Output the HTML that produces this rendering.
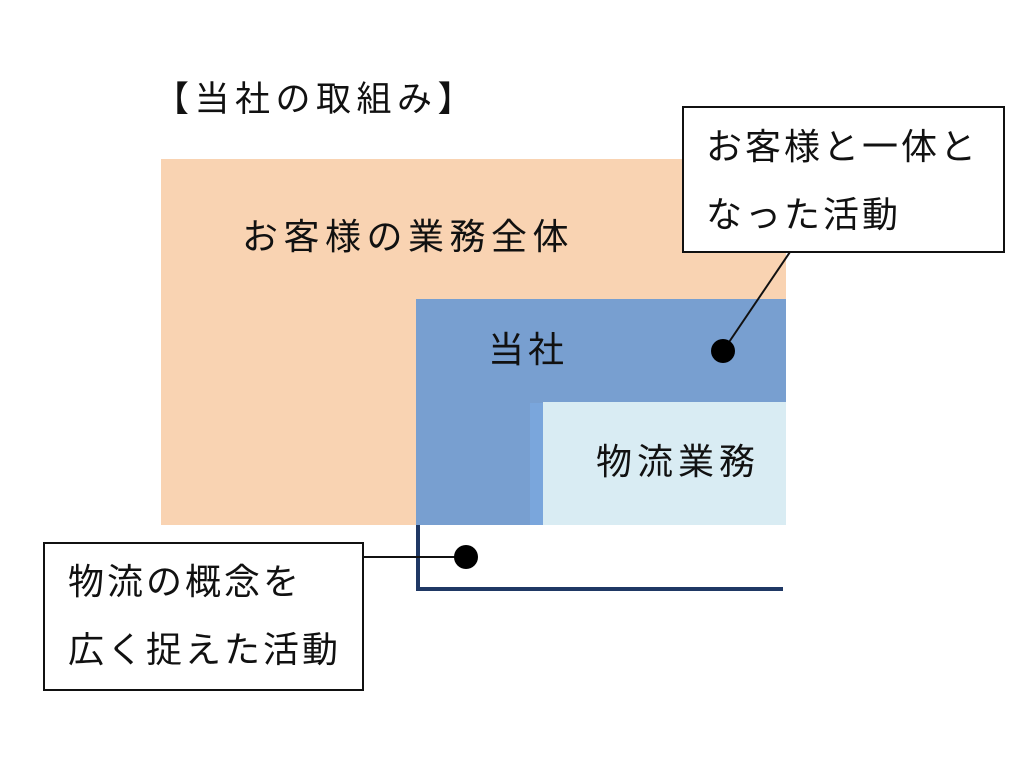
<!DOCTYPE html>
<html><head><meta charset="utf-8"><style>
body{margin:0;width:1024px;height:768px;background:#fff;position:relative;overflow:hidden;font-family:"Liberation Sans","Noto Sans CJK JP",sans-serif;color:#111}
.a{position:absolute}
.t{position:absolute;white-space:nowrap;line-height:1}
</style></head><body>
<div class="t" style="left:154px;top:82px;font-size:35px;letter-spacing:5.5px">【当社の取組み】</div>
<div class="a" style="left:161px;top:159px;width:625px;height:366px;background:#f9d3b2"></div>
<div class="a" style="left:416px;top:299px;width:370px;height:226px;background:#789fd0"></div>
<div class="a" style="left:530px;top:403px;width:14px;height:122px;background:#7aa6dc"></div>
<div class="a" style="left:543px;top:402px;width:243px;height:123px;background:#d9ecf3"></div>
<div class="t" style="left:242px;top:219px;font-size:36px;letter-spacing:5.5px">お客様の業務全体</div>
<div class="t" style="left:488px;top:332px;font-size:36px;letter-spacing:4px">当社</div>
<div class="t" style="left:596px;top:444px;font-size:36px;letter-spacing:5px">物流業務</div>
<svg class="a" style="left:0;top:0" width="1024" height="768">
<path d="M418 525 V589 H783" fill="none" stroke="#1f3864" stroke-width="4"/>
<line x1="362" y1="557" x2="466" y2="557" stroke="#111" stroke-width="2"/>
<line x1="723" y1="351" x2="790" y2="252" stroke="#111" stroke-width="2"/>
<circle cx="723" cy="351" r="12" fill="#000"/>
<circle cx="466" cy="557" r="12" fill="#000"/>
</svg>
<div class="a" style="left:682px;top:106px;width:319px;height:143px;border:2px solid #111;background:#fff"></div>
<div class="t" style="left:706px;top:129px;font-size:36px;letter-spacing:3px">お客様と一体と</div>
<div class="t" style="left:706px;top:197px;font-size:36px;letter-spacing:3px">なった活動</div>
<div class="a" style="left:43px;top:542px;width:317px;height:145px;border:2px solid #111;background:#fff"></div>
<div class="t" style="left:68px;top:564px;font-size:36px;letter-spacing:3px">物流の概念を</div>
<div class="t" style="left:68px;top:632px;font-size:36px;letter-spacing:3px">広く捉えた活動</div>
</body></html>
